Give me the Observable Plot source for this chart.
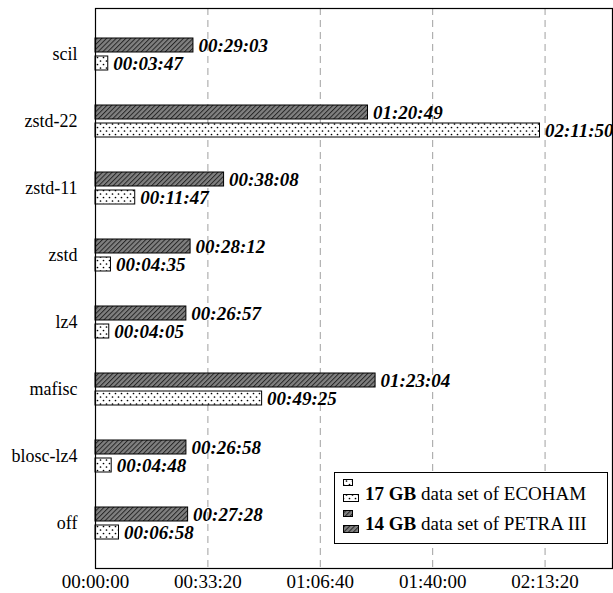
<!DOCTYPE html>
<html>
<head>
<meta charset="utf-8">
<script src="https://cdn.jsdelivr.net/npm/d3@7"></script>
<script src="https://cdn.jsdelivr.net/npm/@observablehq/plot@0.6"></script>
<style>
  html, body { margin: 0; padding: 0; background: #fff; }
  #chart { position: relative; width: 613px; height: 593px; }
  #chart svg, #chart svg text { font-family: "Liberation Serif", "Times New Roman", serif; }
</style>
</head>
<body>
<div id="chart"></div>
<script>
// ---- data ----
const categories = ["scil", "zstd-22", "zstd-11", "zstd", "lz4", "mafisc", "blosc-lz4", "off"];
const petraTimes = ["00:29:03", "01:20:49", "00:38:08", "00:28:12", "00:26:57", "01:23:04", "00:26:58", "00:27:28"];
const ecohamTimes = ["00:03:47", "02:11:50", "00:11:47", "00:04:35", "00:04:05", "00:49:25", "00:04:48", "00:06:58"];
const xTickLabels = ["00:00:00", "00:33:20", "01:06:40", "01:40:00", "02:13:20"];
const seriesNames = ["17 GB", "14 GB"];
const seriesRest = [" data set of ECOHAM", " data set of PETRA III"];

const toSec = s => { const [h, m, x] = s.split(":").map(Number); return h * 3600 + m * 60 + x; };
const pad = n => String(n).padStart(2, "0");
const fmt = v => `${pad(Math.floor(v / 3600))}:${pad(Math.floor(v / 60) % 60)}:${pad(Math.round(v) % 60)}`;

const petra = categories.map((c, i) => ({cat: c, v: toSec(petraTimes[i]), label: petraTimes[i]}));
const ecoham = categories.map((c, i) => ({cat: c, v: toSec(ecohamTimes[i]), label: ecohamTimes[i]}));
const xTicks = xTickLabels.map(toSec);

const FONT = "'Liberation Serif', 'Times New Roman', serif";

const plot = Plot.plot({
  width: 613,
  height: 593,
  marginLeft: 95,
  marginRight: 1,
  marginTop: 8,
  marginBottom: 25,
  style: {fontFamily: FONT, fontSize: "18px", background: "#fff", color: "#000"},
  x: {domain: [0, 9200], ticks: xTicks, tickFormat: fmt},
  y: {domain: categories, paddingInner: 0.527, paddingOuter: 0.405},
  marks: [
    Plot.gridX(xTicks, {stroke: "#a0a0a0", strokeOpacity: 1, strokeDasharray: "7,5", strokeWidth: 1}),
    Plot.barX(petra, {x: "v", y: "cat", insetBottom: 18, fill: "url(#hatch)", stroke: "#000", strokeWidth: 1}),
    Plot.barX(ecoham, {x: "v", y: "cat", insetTop: 18, fill: "url(#dots)", stroke: "#000", strokeWidth: 1}),
    Plot.text(petra, {x: "v", y: "cat", text: "label", dy: -9, dx: 5, textAnchor: "start",
      fontWeight: "bold", fontStyle: "italic", fontSize: 19, fontFamily: FONT, fill: "#000"}),
    Plot.text(ecoham, {x: "v", y: "cat", text: "label", dy: 9, dx: 5, textAnchor: "start",
      fontWeight: "bold", fontStyle: "italic", fontSize: 19, fontFamily: FONT, fill: "#000"}),
    Plot.axisX({ticks: xTicks, tickFormat: fmt, tickSize: 0, tickPadding: 6, fontSize: 19, fontFamily: FONT, label: null}),
    Plot.axisY({tickSize: 0, tickPadding: 18, fontSize: 18, fontFamily: FONT, label: null}),
    Plot.frame({stroke: "#000", strokeWidth: 1.2})
  ]
});

document.getElementById("chart").appendChild(plot);

const svg = d3.select(plot);
const defs = svg.insert("defs", ":first-child");
const hw = 3.4;
const hatch = defs.append("pattern").attr("id", "hatch").attr("patternUnits", "userSpaceOnUse")
  .attr("width", hw).attr("height", hw).attr("patternTransform", "rotate(45)");
hatch.append("rect").attr("width", hw).attr("height", hw).attr("fill", "#808080");
hatch.append("line").attr("x1", 0.5).attr("y1", 0).attr("x2", 0.5).attr("y2", hw).attr("stroke", "#262626").attr("stroke-width", 1);
const dots = defs.append("pattern").attr("id", "dots").attr("patternUnits", "userSpaceOnUse")
  .attr("width", 6).attr("height", 7);
dots.append("rect").attr("width", 6).attr("height", 7).attr("fill", "#fff");
dots.append("circle").attr("cx", 1.5).attr("cy", 1.5).attr("r", 0.85).attr("fill", "#000");
dots.append("circle").attr("cx", 4.5).attr("cy", 5).attr("r", 0.85).attr("fill", "#000");

// ---- legend ----
const lg = svg.append("g").attr("font-family", FONT).attr("font-size", 19).attr("text-anchor", "start");
lg.append("rect").attr("x", 334.5).attr("y", 472.5).attr("width", 273).attr("height", 71)
  .attr("fill", "#fff").attr("stroke", "#000").attr("stroke-width", 1);
const fills = ["url(#dots)", "url(#hatch)"];
[0, 1].forEach(i => {
  const y0 = 479 + i * 31;
  lg.append("rect").attr("x", 343.5).attr("y", y0 + 0.5).attr("width", 9).attr("height", 6)
    .attr("fill", fills[i]).attr("stroke", "#000");
  lg.append("rect").attr("x", 343.5).attr("y", y0 + 15.5).attr("width", 15).attr("height", 7)
    .attr("fill", fills[i]).attr("stroke", "#000");
  const t = lg.append("text").attr("x", 365).attr("y", 500 + i * 30).attr("text-anchor", "start");
  t.append("tspan").attr("font-weight", "bold").text(seriesNames[i]);
  t.append("tspan").text(seriesRest[i]);
});
</script>
</body>
</html>
